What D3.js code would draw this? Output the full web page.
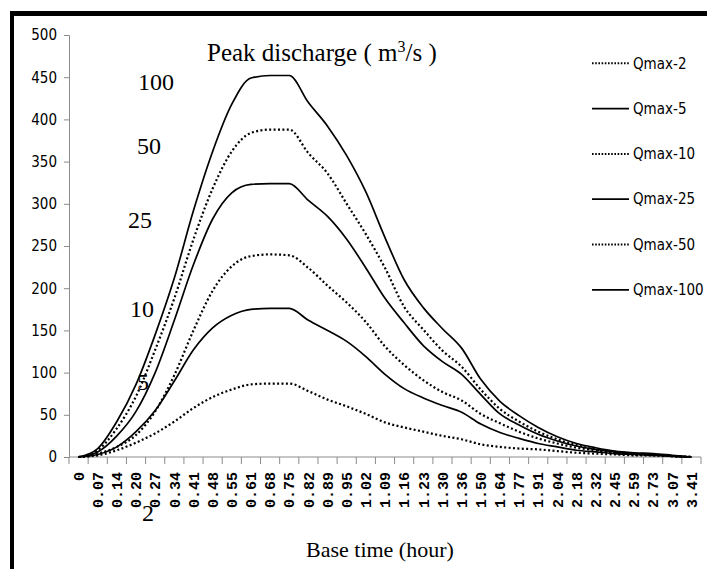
<!DOCTYPE html>
<html><head><meta charset="utf-8">
<script src="https://cdn.jsdelivr.net/npm/d3@7"></script>
<style>body{margin:0;background:#fff}svg{display:block}</style>
</head><body>
<script>
const categories = ["0","0.07","0.14","0.20","0.27","0.34","0.41","0.48","0.55","0.61","0.68","0.75","0.82","0.89","0.95","1.02","1.09","1.16","1.23","1.30","1.36","1.50","1.64","1.77","1.91","2.04","2.18","2.32","2.45","2.59","2.73","3.07","3.41"];
const qmax2   = [0,2,8,17,28,42,58,71,80,86,87,87,78,68,60,51,41,35,30,25,21,15,12,10,9,7,5,4,3,2,2,1,0];
const qmax5   = [0,3,12,30,55,90,127,153,168,175,176,176,162,150,137,119,98,81,70,61,53,39,29,22,16,12,8,6,4,3,2,1,0];
const qmax10  = [0,4,12,26,54,97,150,197,226,238,240,239,224,203,183,160,131,109,91,77,67,51,40,30,22,16,11,8,5,3,2,1,0];
const qmax25  = [0,6,25,54,100,162,228,282,313,323,324,324,304,285,258,224,188,159,132,113,98,74,51,38,27,19,13,9,6,4,3,1,0];
const qmax50  = [0,8,34,72,127,188,258,318,362,384,388,388,360,336,300,264,224,178,151,126,107,80,57,42,30,21,14,9,6,4,3,1,0];
const qmax100 = [0,10,42,86,145,212,292,362,418,449,452,452,420,392,357,314,260,210,177,152,129,92,66,49,35,24,16,11,7,5,4,2,0];
const seriesNames = ["Qmax-2","Qmax-5","Qmax-10","Qmax-25","Qmax-50","Qmax-100"];
const seriesValues = [qmax2,qmax5,qmax10,qmax25,qmax50,qmax100];
const seriesDotted = [true,false,true,false,true,false];
const yTicks = [0,50,100,150,200,250,300,350,400,450,500];
const curveLabels = ["100","50","25","10","5","2"];
const curveLabelPos = [[138,90],[137,154],[128,228],[130,317],[137,390],[142,521]];

const W=707,H=569;
const svg=d3.select("body").append("svg").attr("width",W).attr("height",H);

// frame
svg.append("line").attr("x1",10).attr("x2",W).attr("y1",13.5).attr("y2",13.5).attr("stroke","#000").attr("stroke-width",5);
svg.append("line").attr("x1",12).attr("x2",12).attr("y1",11).attr("y2",H).attr("stroke","#000").attr("stroke-width",4);

const x=d3.scaleBand().domain(categories).range([69,701]);
const y=d3.scaleLinear().domain([0,500]).range([457,35]);
const cx=c=>x(c)+x.bandwidth()/2;

// y axis
const ya=svg.append("g").attr("transform","translate(69,0)").call(d3.axisLeft(y).tickValues(yTicks).tickSize(5).tickPadding(7));
ya.select(".domain").attr("stroke","#8c8c8c");
ya.selectAll(".tick line").attr("stroke","#8c8c8c");
ya.selectAll("text").attr("font-family","'Liberation Sans Narrow','DejaVu Sans Condensed',sans-serif").attr("font-size",15).attr("fill","#000");

// x axis
const xa=svg.append("g").attr("transform","translate(0,457)").call(d3.axisBottom(x).tickSize(0).tickPadding(0));
xa.select(".domain").attr("stroke","#8c8c8c").attr("d","M69,0H701");
xa.selectAll("text").attr("font-family","'Liberation Mono',monospace").attr("font-weight","bold").attr("font-size",15).attr("fill","#000")
  .attr("transform","rotate(-90)").attr("text-anchor","end").attr("x",-15).attr("y",0).attr("dy","0.35em");
const bounds=categories.map(c=>x(c)).concat([x(categories[categories.length-1])+x.bandwidth()]);
xa.selectAll(".bt").data(bounds).enter().append("line").attr("class","bt")
  .attr("x1",d=>d).attr("x2",d=>d).attr("y1",0).attr("y2",7).attr("stroke","#8c8c8c");

// annotation labels
svg.selectAll(".cl").data(curveLabels).enter().append("text").attr("class","cl")
  .attr("x",(d,i)=>curveLabelPos[i][0]).attr("y",(d,i)=>curveLabelPos[i][1])
  .attr("font-family","'Liberation Serif','Times New Roman',serif").attr("font-size",24).text(d=>d);

// lines
const line=d3.line().x((d,i)=>cx(categories[i])).y(d=>y(d)).curve(d3.curveMonotoneX);
seriesValues.forEach((vals,k)=>{
  svg.append("path").datum(vals).attr("d",line).attr("fill","none").attr("stroke","#000")
    .attr("stroke-width",seriesDotted[k]?2.2:1.7)
    .attr("stroke-dasharray",seriesDotted[k]?"2,2.4":null);
});

// title
const t=svg.append("text").attr("x",207).attr("y",61).attr("font-family","'Liberation Serif','Times New Roman',serif").attr("font-size",25);
t.append("tspan").text("Peak discharge ( m");
t.append("tspan").attr("font-size",16).attr("dy",-9).text("3");
t.append("tspan").attr("dy",9).text("/s )");

svg.append("text").attr("x",306).attr("y",557).attr("font-family","'Liberation Serif','Times New Roman',serif").attr("font-size",22).text("Base time (hour)");

// legend
const lg=svg.selectAll(".lg").data(seriesNames).enter().append("g").attr("class","lg")
  .attr("transform",(d,i)=>`translate(0,${63.3+i*45.3})`);
lg.append("line").attr("x1",592).attr("x2",629).attr("y1",0).attr("y2",0).attr("stroke","#000")
  .attr("stroke-width",(d,i)=>seriesDotted[i]?2:1.7).attr("stroke-dasharray",(d,i)=>seriesDotted[i]?"1.6,1.6":null);
lg.append("text").attr("x",633).attr("y",0).attr("dy","0.35em")
  .attr("font-family","'Liberation Sans Narrow','DejaVu Sans Condensed',sans-serif").attr("font-size",15).text(d=>d);
</script>
</body></html>
